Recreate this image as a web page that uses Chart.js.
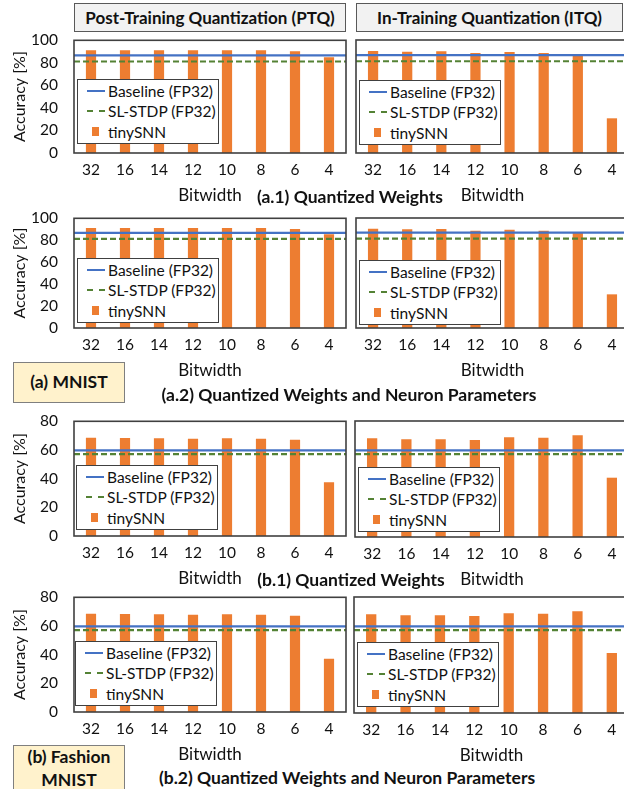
<!DOCTYPE html>
<html><head><meta charset="utf-8">
<script src="https://cdn.jsdelivr.net/npm/chart.js@4.4.1/dist/chart.umd.min.js"></script>
<style>
html,body{margin:0;padding:0;background:#fff;overflow:hidden;width:624px;height:789px}
body{position:relative;font-family:Lato,sans-serif;color:#111}
canvas{position:absolute}
.hdr{position:absolute;top:3px;height:29px;background:#f2f2f2;border:1px solid #595959;box-sizing:border-box;font-weight:bold;font-size:17px;display:flex;align-items:center;justify-content:center;white-space:nowrap}
.cap{position:absolute;font-weight:bold;font-size:17.5px;white-space:nowrap;transform:translate(-50%,-50%)}
.ds{position:absolute;left:13px;width:112px;background:#fff2cc;border:1.5px solid #7f7f7f;box-sizing:border-box;font-weight:bold;font-size:17.5px;text-align:center;display:flex;align-items:center;justify-content:center;line-height:1.3}
.lg{position:absolute;width:142px;height:65px;background:#fff;border:1px solid #404040;box-sizing:border-box;font-size:15.5px}
.lg .t{position:absolute;left:30px;transform:translateY(-50%);white-space:nowrap}
.lg .s{position:absolute}
</style></head><body>
<script>
// data
const bitwidths = ['32','16','14','12','10','8','6','4'];
const seriesNames = ['Baseline (FP32)', 'SL-STDP (FP32)', 'tinySNN'];

const mnistBaseline = 86.7;
const mnistSlStdp = 81.2;
const fashionBaseline = 59.7;
const fashionSlStdp = 57.1;

const mnistPtqW   = [91.2, 91.2, 91.2, 91.2, 91.2, 91.2, 90.3, 85.0];
const mnistItqW   = [90.3, 89.7, 90.0, 88.5, 89.4, 88.5, 87.0, 30.7];
const mnistPtqWN  = [91.2, 91.2, 91.2, 91.2, 91.2, 91.2, 90.3, 85.5];
const mnistItqWN  = [90.3, 89.7, 90.0, 88.5, 89.4, 88.5, 87.0, 30.6];
const fashionPtqW  = [68.5, 68.3, 68.1, 67.8, 68.1, 67.8, 67.1, 37.5];
const fashionItqW  = [68.1, 67.4, 67.4, 66.9, 68.8, 68.5, 70.1, 40.9];
const fashionPtqWN = [68.5, 68.3, 68.1, 67.8, 68.1, 67.8, 67.1, 37.2];
const fashionItqWN = [68.1, 67.4, 67.4, 66.9, 68.8, 68.5, 70.1, 41.4];

const mnistMax = 100;
const fashionMax = 80;
const tickStep = 20;

Chart.defaults.font.family = 'Lato, sans-serif';
Chart.defaults.font.size = 15.5;
Chart.defaults.color = '#111';

// frame around the plot area
const framePlugin = {
  id: 'frame',
  afterDraw(c) {
    const a = c.chartArea, ctx = c.ctx;
    ctx.save();
    ctx.strokeStyle = '#404040';
    ctx.lineWidth = 1.6;
    ctx.strokeRect(a.left, a.top, a.right - a.left, a.bottom - a.top);
    ctx.restore();
  }
};

// panel layout: frame box in page pixels
const panels = [
  {bars: mnistPtqW,   base: mnistBaseline,   sl: mnistSlStdp,   max: mnistMax,   L: 74,  T: 40,  R: 346, B: 153, yAxis: true,  lg: [77, 79]},
  {bars: mnistItqW,   base: mnistBaseline,   sl: mnistSlStdp,   max: mnistMax,   L: 356, T: 40,  R: 629, B: 153, yAxis: false, lg: [359, 80]},
  {bars: mnistPtqWN,  base: mnistBaseline,   sl: mnistSlStdp,   max: mnistMax,   L: 74,  T: 218, R: 346, B: 328, yAxis: true,  lg: [77, 258]},
  {bars: mnistItqWN,  base: mnistBaseline,   sl: mnistSlStdp,   max: mnistMax,   L: 356, T: 218, R: 629, B: 328, yAxis: false, lg: [359, 260]},
  {bars: fashionPtqW, base: fashionBaseline, sl: fashionSlStdp, max: fashionMax, L: 74,  T: 421, R: 346, B: 536, yAxis: true,  lg: [76, 465]},
  {bars: fashionItqW, base: fashionBaseline, sl: fashionSlStdp, max: fashionMax, L: 355, T: 421, R: 629, B: 537, yAxis: false, lg: [358, 467]},
  {bars: fashionPtqWN,base: fashionBaseline, sl: fashionSlStdp, max: fashionMax, L: 74,  T: 597, R: 346, B: 712, yAxis: true,  lg: [75, 641]},
  {bars: fashionItqWN,base: fashionBaseline, sl: fashionSlStdp, max: fashionMax, L: 354, T: 597, R: 629, B: 713, yAxis: false, lg: [357, 642]}
];

const X_AXIS_H = 53;
const PAD_TOP = 12;

function addDiv(cls, css, html) {
  const d = document.createElement('div');
  d.className = cls;
  Object.assign(d.style, css);
  d.innerHTML = html;
  document.body.appendChild(d);
  return d;
}

function makeChart(p, left, w, h) {
  const cv = document.createElement('canvas');
  cv.width = w; cv.height = h;
  cv.style.left = left + 'px';
  cv.style.width = w + 'px'; cv.style.height = h + 'px';
  document.body.appendChild(cv);
  const chart = new Chart(cv.getContext('2d'), {
    data: {
      labels: bitwidths,
      datasets: [
        {type: 'line', label: seriesNames[0], xAxisID: 'xl', data: [{x: 0, y: p.base}, {x: 1, y: p.base}],
         borderColor: '#4472C4', borderWidth: 2.2, pointRadius: 0, order: 1},
        {type: 'line', label: seriesNames[1], xAxisID: 'xl', data: [{x: 0, y: p.sl}, {x: 1, y: p.sl}],
         borderColor: '#548235', borderWidth: 2.2, borderDash: [6, 3], pointRadius: 0, order: 1},
        {type: 'bar', label: seriesNames[2], xAxisID: 'x', data: p.bars, grouped: false,
         backgroundColor: '#ED7D31', categoryPercentage: 1, barPercentage: 0.3, order: 2}
      ]
    },
    options: {
      responsive: false,
      animation: false,
      devicePixelRatio: 1,
      layout: {padding: {top: PAD_TOP, right: 2, left: p.yAxis ? 0 : 10, bottom: 0}},
      plugins: {legend: {display: false}, tooltip: {enabled: false}},
      scales: {
        x: {
          type: 'category', position: 'bottom', offset: true,
          grid: {display: false, drawTicks: false}, border: {display: false},
          ticks: {padding: 8, maxRotation: 0, autoSkip: false},
          title: {display: true, text: 'Bitwidth', padding: 0, font: {size: 17}},
          afterFit: s => { s.height = X_AXIS_H; }
        },
        xl: {type: 'linear', display: false, min: 0, max: 1},
        y: {
          display: p.yAxis, min: 0, max: p.max,
          grid: {display: false, drawTicks: false}, border: {display: false},
          ticks: {stepSize: tickStep, padding: 16, autoSkip: false},
          title: {display: true, text: 'Accuracy [%]', padding: {top: 10, bottom: 0}, font: {size: 16}},
          afterFit: s => { s.width = p.yAxis ? 74 : 0; }
        }
      }
    },
    plugins: [framePlugin]
  });
  return {cv, chart};
}

panels.forEach(p => {
  const left = p.yAxis ? 0 : p.L - 10;
  const w = p.R + 2 - left;
  const h0 = p.B - p.T + PAD_TOP + X_AXIS_H;
  let {cv, chart} = makeChart(p, left, w, h0);
  // the top label may push the plot down; grow the canvas by that amount
  const extra = Math.round(chart.chartArea.top - PAD_TOP);
  if (extra > 0) {
    chart.destroy(); cv.remove();
    ({cv, chart} = makeChart(p, left, w, h0 + extra));
  }
  cv.style.top = (p.T - chart.chartArea.top) + 'px';

  // legend box drawn over the plot
  const lg = addDiv('lg', {left: p.lg[0] + 'px', top: p.lg[1] + 'px'}, '');
  const rowsY = [11, 31, 52];
  seriesNames.forEach((name, i) => {
    const s = document.createElement('div');
    s.className = 's';
    if (i === 0) Object.assign(s.style, {left: '9px', top: (rowsY[i] - 1) + 'px', width: '18px', height: '2px', background: '#4472C4'});
    if (i === 1) Object.assign(s.style, {left: '9px', top: (rowsY[i] - 1) + 'px', width: '18px', height: '0', borderTop: '2px dashed #548235'});
    if (i === 2) Object.assign(s.style, {left: '14px', top: (rowsY[i] - 5) + 'px', width: '7px', height: '9px', background: '#ED7D31'});
    lg.appendChild(s);
    const t = document.createElement('div');
    t.className = 't';
    t.style.top = rowsY[i] + 'px';
    t.textContent = name;
    lg.appendChild(t);
  });
});

// column headers
addDiv('hdr', {left: '74px', width: '272px'}, 'Post-Training Quantization (PTQ)');
addDiv('hdr', {left: '356px', width: '267px'}, 'In-Training Quantization (ITQ)');

// captions
addDiv('cap', {left: '350px', top: '196px'}, '(a.1) Quantized Weights');
addDiv('cap', {left: '349px', top: '394px'}, '(a.2) Quantized Weights and Neuron Parameters');
addDiv('cap', {left: '351px', top: '579px'}, '(b.1) Quantized Weights');
addDiv('cap', {left: '347px', top: '777px'}, '(b.2) Quantized Weights and Neuron Parameters');

// dataset tags
addDiv('ds', {top: '362px', height: '41px'}, '(a) MNIST');
addDiv('ds', {top: '745px', height: '48px'}, '(b) Fashion<br>MNIST');
</script>
</body></html>
